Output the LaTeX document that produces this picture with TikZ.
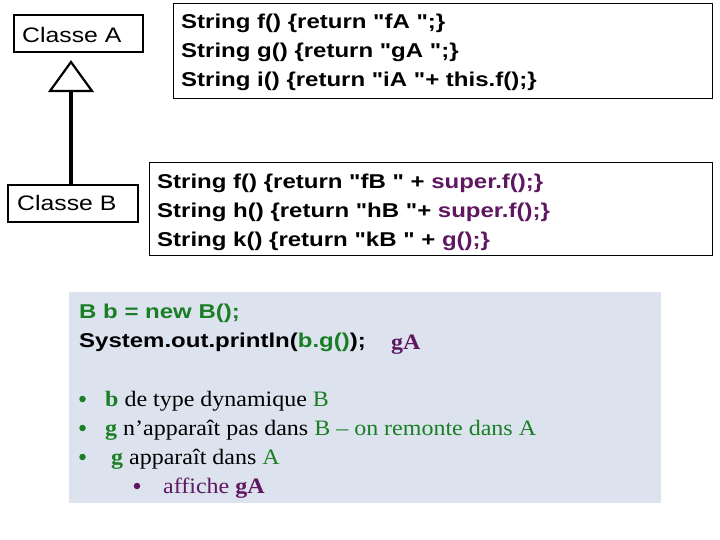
\documentclass[tikz,border=0pt]{standalone}
\usepackage{fontspec}
\setmainfont{Liberation Serif}
\setsansfont{Liberation Sans}
\newfontfamily\arialf[FakeStretch=1.2]{Liberation Sans}
\newfontfamily\arialc[FakeStretch=1.18]{Liberation Sans}
\newfontfamily\timesf[FakeStretch=1.09]{Liberation Serif}
\definecolor{grn}{HTML}{1A7F24}
\definecolor{purp}{HTML}{5E1760}
\definecolor{bluebg}{HTML}{DCE3EF}
\begin{document}
\begin{tikzpicture}[x=1pt,y=-1pt,
  classbox/.style={draw,line width=1.6pt,inner sep=0pt},
  codebox/.style={draw,line width=0.9pt,inner sep=0pt},
  cls/.style={anchor=base west,inner sep=0pt,font=\fontsize{21}{24}\arialc},
  code/.style={anchor=base west,inner sep=0pt,font=\fontsize{20}{24}\arialf\bfseries},
  ser/.style={anchor=base west,inner sep=0pt,font=\fontsize{22}{25}\timesf},
  bul/.style={circle,inner sep=0pt,minimum size=6.5pt}]
\useasboundingbox (0,0) rectangle (720,540);
% boxes
\draw[classbox] (14,15) rectangle (143,52);
\draw[classbox] (8,185) rectangle (138,222);
\coordinate (tri) at (71,91);
\coordinate (btop) at (71,185);
\node[cls] (ca) at (22,43) {Classe A};
\node[cls] (cb) at (17,211) {Classe B};
\draw[line width=3.5pt] (btop) -- (tri);
\draw[line width=2.2pt,line join=miter,fill=white] (71,62) -- (92,91) -- (50,91) -- cycle;
\draw[codebox] (173,3) rectangle (712,98);
\draw[codebox] (149,162) rectangle (712,255);
\fill[bluebg] (69,292) rectangle (661,503);
% code A
\node[code] (a1) at (181,29) {String f() \{return "fA ";\}};
\node[code] (a2) at (181,58) {String g() \{return "gA ";\}};
\node[code] (a3) at (181,87) {String i() \{return "iA "+ this.f();\}};
% code B
\node[code] (b1) at (157,189) {String f() \{return "fB " + \textcolor{purp}{super.f();\}}};
\node[code] (b2) at (157,218) {String h() \{return "hB "+ \textcolor{purp}{super.f();\}}};
\node[code] (b3) at (157,246) {String k() \{return "kB " + \textcolor{purp}{g();\}}};
% blue box text
\node[code,text=grn] (m1) at (79,318) {B b = new B();};
\node[code] (m2) at (79,347) {System.out.println(\textcolor{grn}{b.g()});};
\node[ser,text=purp,font=\fontsize{22}{25}\timesf\bfseries] (m3) at (391,349) {gA};
\node[bul,fill=grn] (d1) at (82.5,399) {};
\node[ser] (l1) at (105,406) {\textcolor{grn}{\textbf{b}} de type dynamique \textcolor{grn}{B}};
\node[bul,fill=grn] (d2) at (82.5,428) {};
\node[ser] (l2) at (105,435) {\textcolor{grn}{\textbf{g}} n’apparaît pas dans \textcolor{grn}{B – on remonte dans A}};
\node[bul,fill=grn] (d3) at (82.5,457) {};
\node[ser] (l3) at (111,464) {\textcolor{grn}{\textbf{g}} apparaît dans \textcolor{grn}{A}};
\node[bul,fill=purp] (d4) at (137,486) {};
\node[ser,text=purp] (l4) at (163,493) {affiche \textbf{gA}};
\end{tikzpicture}
\end{document}
